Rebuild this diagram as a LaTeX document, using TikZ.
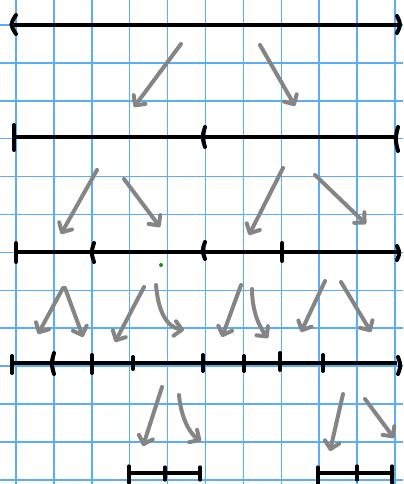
\documentclass[tikz,border=0pt]{standalone}
\usetikzlibrary{arrows.meta}
\definecolor{GridBlue}{HTML}{5CADF7}
\definecolor{PenGray}{HTML}{858585}
\definecolor{DotGreen}{HTML}{1E8C1E}
\tikzset{
  gridline/.style={GridBlue, line width=1.1pt},
  numline/.style={black, line width=3pt},
  endmark/.style={black, line width=3pt, line cap=round},
  split/.style={PenGray, line width=3pt, line cap=round, line join=round,
    -{Straight Barb[length=5.5pt, width=11pt, round]}}
}

\begin{document}
\begin{tikzpicture}[x=0.75pt, y=-0.75pt]
  \useasboundingbox (0,0) rectangle (403,484);

  % squared paper
  \foreach \gx in {0,...,10}
    \draw[gridline] ({16+37.9*\gx},0) -- ({16+37.9*\gx},484);
  \foreach \gy in {0,...,12}
    \draw[gridline] (0,{25+37.9*\gy}) -- (403,{25+37.9*\gy});

  % the intervals
  \draw[numline] (14,25) -- (398,25);
  \draw[numline] (14,137) -- (397,137);
  \draw[numline] (16,252) -- (397,252);
  \draw[numline] (12,363) -- (397,363);
  \draw[numline, line width=2.5pt] (129,473) -- (200,473);
  \draw[numline, line width=2.5pt] (318,473) -- (392,473);

  % cut marks: x / top / bottom / bulge
  \foreach \tx/\ta/\tb/\tc in {16/15/34/-6, 397/16/33/4,
      14/125/150/0, 205/127/147/-3, 398/127/151/-3,
      16/243/262/0, 94/243/262/-3, 205/242/259/-3, 282/243/261/0, 397/246/260/3,
      12/356/373/0, 54/353/374/-3, 92/355/373/0, 133/357/369/0, 203/355/371/0,
      244/356/371/0, 280/353/370/0, 323/355/371/0, 398/357/374/3}
    \draw[endmark] (\tx,\ta) .. controls ({\tx+\tc},{(\ta+\tb)/2}) .. (\tx,\tb);
  \foreach \tx/\ta/\tb in {129/466/483, 165/467/480, 200/467/480,
      318/467/484, 357/466/480, 392/466/483}
    \draw[endmark, line width=2.5pt] (\tx,\ta) -- (\tx,\tb);

  % splitting arrows
  \foreach \n/\sx/\sy/\ex/\ey in {1/181/44/134/107, 2/260/45/295/106,
      3/97/170/61/234, 4/124/179/160/227, 5/283/168/249/235, 6/315/175/366/224,
      7/63/288/38/334, 8/65/288/83/337, 9/144/287/115/342, 11/241/285/222/337,
      13/325/281/301/332, 14/341/282/371/332,
      15/162/387/143/446, 17/343/394/330/451, 18/365/399/394/438} {
    \coordinate (from\n) at (\sx,\sy);
    \coordinate (to\n) at (\ex,\ey);
    \draw[split] (from\n) -- (to\n);
  }
  \coordinate (from10) at (156,285);
  \coordinate (to10) at (184,330);
  \draw[split] (from10) .. controls (158,310) and (166,327) .. (to10);
  \coordinate (from12) at (252,289);
  \coordinate (to12) at (268,338);
  \draw[split] (from12) .. controls (252,312) and (260,328) .. (to12);
  \coordinate (from16) at (179,395);
  \coordinate (to16) at (201,441);
  \draw[split] (from16) .. controls (181,418) and (190,434) .. (to16);

  \fill[DotGreen] (161,265) circle (2);
\end{tikzpicture}
\end{document}
